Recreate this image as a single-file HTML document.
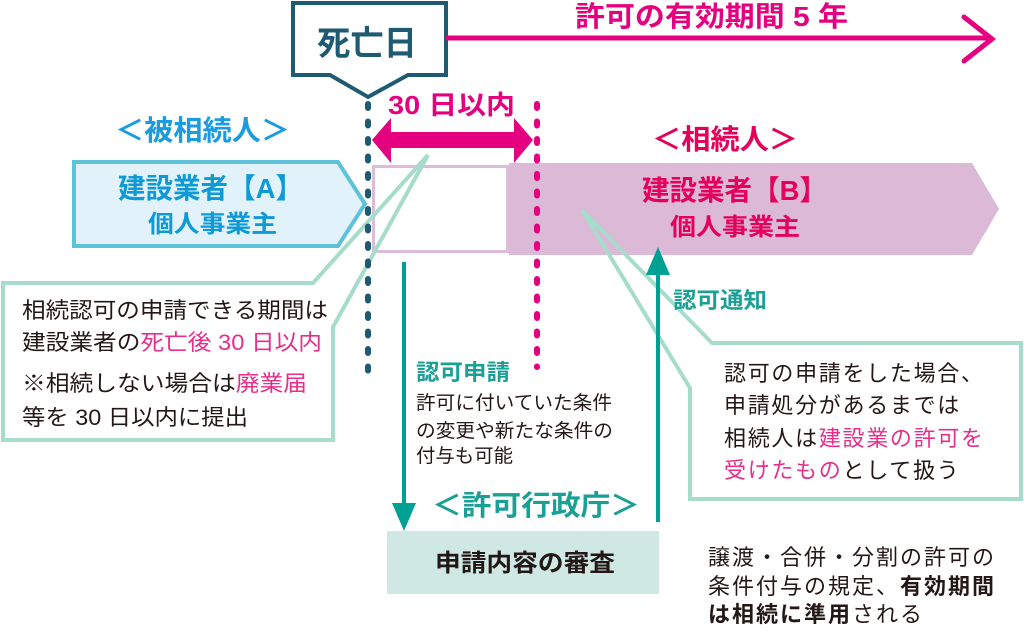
<!DOCTYPE html>
<html>
<head>
<meta charset="utf-8">
<style>
html,body{margin:0;padding:0;background:#fff;}
svg{display:block;}
text{font-family:"Liberation Sans","Noto Sans CJK JP",sans-serif;}
</style>
</head>
<body>
<svg width="1024" height="638" viewBox="0 0 1024 638" xmlns="http://www.w3.org/2000/svg">
  <!-- B pentagon -->
  <polygon points="509,163 972,163 999,209 972,255 509,255" fill="#dbb9d7"/>
  <!-- white box -->
  <rect x="373.5" y="166.5" width="134" height="85" fill="#fff" stroke="#dcbcd8" stroke-width="3"/>
  <!-- A pentagon -->
  <polygon points="74,162 338,162 365,204 338,246 74,246" fill="#e1f2fb" stroke="#5fc2db" stroke-width="4"/>

  <!-- left callout -->
  <rect x="3" y="283" width="330" height="157" fill="#fff"/>
  <path d="M333,327 L428,155 L313,283 H3 V440 H333 Z" fill="none" stroke="#a6dccb" stroke-width="4" stroke-linejoin="miter"/>
  <!-- right callout -->
  <rect x="690" y="343" width="331" height="156" fill="#fff"/>
  <path d="M690,388 L582,210 L712,343 H1021 V499 H690 Z" fill="none" stroke="#a6dccb" stroke-width="4" stroke-linejoin="miter"/>

  <!-- review box -->
  <rect x="387" y="531" width="272" height="63" fill="#cfe8e4"/>

  <!-- teal arrows -->
  <line x1="404" y1="262" x2="404" y2="506" stroke="#00a093" stroke-width="4"/>
  <polygon points="392,503 416,503 404,531" fill="#00a093"/>
  <line x1="658" y1="522" x2="658" y2="272" stroke="#00a093" stroke-width="4"/>
  <polygon points="646,275 670,275 658,247" fill="#00a093"/>

  <!-- dashed lines -->
  <line x1="368" y1="104" x2="368" y2="372" stroke="#1e5a72" stroke-width="6" stroke-linecap="round" stroke-dasharray="4 13.5"/>
  <line x1="537" y1="104" x2="537" y2="367" stroke="#e4007f" stroke-width="6" stroke-linecap="round" stroke-dasharray="4 13.5"/>

  <!-- double arrow -->
  <polygon points="372,140 391,118 391,132 514,132 514,118 533,140 514,163 514,148 391,148 391,163" fill="#e4007f"/>

  <!-- death day box -->
  <path d="M293,3 H446 V75 H408 L368,97 L330,75 H293 Z" fill="#fff" stroke="#1e5a72" stroke-width="4" stroke-linejoin="miter"/>
  <text x="317" y="55" font-size="34" font-weight="bold" fill="#1e5a72" textLength="100" lengthAdjust="spacingAndGlyphs">死亡日</text>

  <!-- 5 year line -->
  <line x1="446" y1="38" x2="990" y2="38" stroke="#e4007f" stroke-width="5"/>
  <polyline points="964,17 992,39 964,61" fill="none" stroke="#e4007f" stroke-width="5" stroke-linecap="round" stroke-linejoin="miter"/>
  <text x="575" y="26" font-size="28" font-weight="bold" fill="#e4007f" textLength="273" lengthAdjust="spacingAndGlyphs">許可の有効期間 5 年</text>

  <!-- 30 days -->
  <text x="388" y="114" font-size="26" font-weight="bold" fill="#e4007f" textLength="127" lengthAdjust="spacingAndGlyphs">30 日以内</text>

  <!-- A texts -->
  <text x="115" y="140" font-size="28" font-weight="bold" fill="#1b9be0" textLength="175" lengthAdjust="spacingAndGlyphs">＜被相続人＞</text>
  <text x="118" y="198" font-size="28" font-weight="bold" fill="#0e9ad7" textLength="185" lengthAdjust="spacingAndGlyphs">建設業者【A】</text>
  <text x="148" y="232" font-size="24" font-weight="bold" fill="#0e9ad7" textLength="129" lengthAdjust="spacingAndGlyphs">個人事業主</text>

  <!-- B texts -->
  <text x="652" y="149" font-size="28" font-weight="bold" fill="#e5005a" textLength="146" lengthAdjust="spacingAndGlyphs">＜相続人＞</text>
  <text x="642" y="200" font-size="28" font-weight="bold" fill="#e5005a" textLength="185" lengthAdjust="spacingAndGlyphs">建設業者【B】</text>
  <text x="670" y="235" font-size="24" font-weight="bold" fill="#e5005a" textLength="130" lengthAdjust="spacingAndGlyphs">個人事業主</text>

  <!-- left callout text -->
  <g font-size="22" fill="#231815">
    <text x="22" y="318" textLength="306" lengthAdjust="spacingAndGlyphs">相続認可の申請できる期間は</text>
    <text x="22" y="350" textLength="300" lengthAdjust="spacingAndGlyphs">建設業者の<tspan fill="#e62e8b">死亡後 30 日以内</tspan></text>
    <text x="22" y="391" textLength="285" lengthAdjust="spacingAndGlyphs">※相続しない場合は<tspan fill="#e62e8b">廃業届</tspan></text>
    <text x="22" y="425" textLength="226" lengthAdjust="spacingAndGlyphs">等を 30 日以内に提出</text>
  </g>

  <!-- application labels -->
  <text x="416" y="380" font-size="22" font-weight="bold" fill="#1aa095" textLength="94" lengthAdjust="spacingAndGlyphs">認可申請</text>
  <g font-size="19" fill="#231815">
    <text x="416" y="409" textLength="196" lengthAdjust="spacingAndGlyphs">許可に付いていた条件</text>
    <text x="416" y="437" textLength="197" lengthAdjust="spacingAndGlyphs">の変更や新たな条件の</text>
    <text x="416" y="462" textLength="97" lengthAdjust="spacingAndGlyphs">付与も可能</text>
  </g>
  <text x="673" y="308" font-size="22" font-weight="bold" fill="#1aa095" textLength="94" lengthAdjust="spacingAndGlyphs">認可通知</text>

  <!-- right callout text -->
  <g font-size="22" fill="#231815" letter-spacing="1.7">
    <text x="724" y="381">認可の申請をした場合、</text>
    <text x="724" y="413">申請処分があるまでは</text>
    <text x="724" y="446">相続人は<tspan fill="#e62e8b">建設業の許可を</tspan></text>
    <text x="724" y="478"><tspan fill="#e62e8b">受けたもの</tspan>として扱う</text>
  </g>

  <!-- administrative agency -->
  <text x="432" y="515" font-size="28" font-weight="bold" fill="#1aa095" textLength="208" lengthAdjust="spacingAndGlyphs">＜許可行政庁＞</text>
  <text x="435" y="571" font-size="24" font-weight="bold" fill="#231815" textLength="180" lengthAdjust="spacingAndGlyphs">申請内容の審査</text>

  <!-- bottom right text -->
  <g font-size="22" fill="#231815" letter-spacing="2">
    <text x="708" y="565">譲渡・合併・分割の許可の</text>
    <text x="708" y="594">条件付与の規定、<tspan font-weight="bold">有効期間</tspan></text>
    <text x="708" y="622"><tspan font-weight="bold">は相続に準用</tspan>される</text>
  </g>
</svg>
</body>
</html>
